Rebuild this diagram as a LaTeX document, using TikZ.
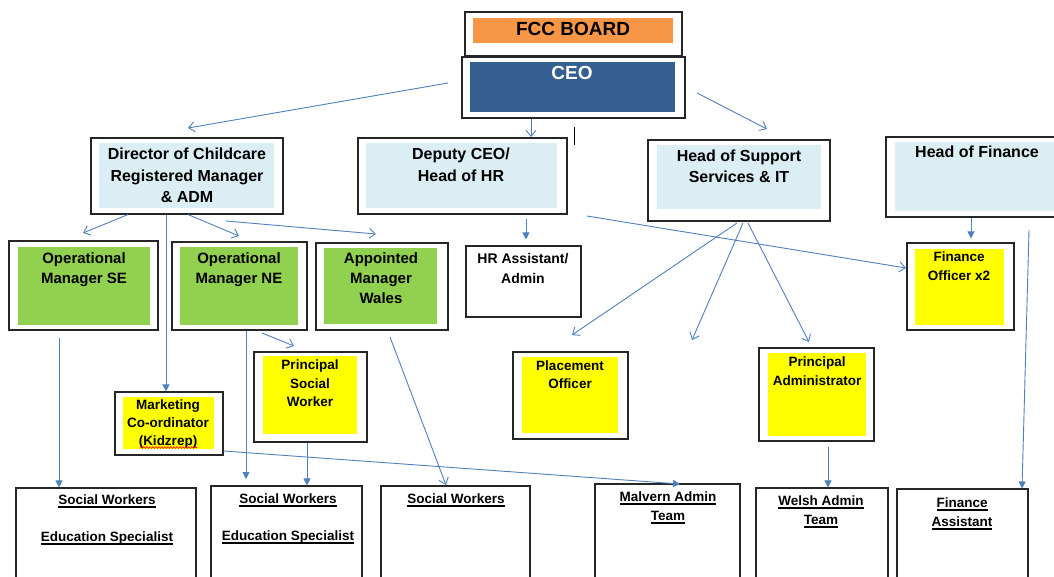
\documentclass[tikz,border=0pt]{standalone}
\usepackage{fontspec}
\setmainfont{Liberation Sans}
\usetikzlibrary{arrows.meta,fit,calc,decorations.pathmorphing}
\definecolor{orangefill}{HTML}{F79646}
\definecolor{ceoblue}{HTML}{365F91}
\definecolor{paleblue}{HTML}{DAEEF3}
\definecolor{greenfill}{HTML}{92D050}
\definecolor{yellowfill}{HTML}{FFFF00}
\definecolor{connblue}{HTML}{4F81BD}
\newcommand\fsz[2]{\fontsize{#1}{#2}\selectfont\bfseries}
\newcommand\obox[5]{\node[outerbox, fit={(#2,#3)(#4,#5)}] (#1) {};}
\newcommand\ibox[6]{\node[fillbox, fill=#6, fit={(#2,#3)(#4,#5)}] (#1) {};}
\newcommand\uln[1]{\setbox0\hbox{#1}\rlap{\rule[-2.6pt]{\wd0}{1.1pt}}\box0}
\begin{document}
\begin{tikzpicture}[x=1pt,y=-1pt,
  outerbox/.style={draw=black!85, line width=1.1pt, inner sep=0pt, fill=white},
  fillbox/.style={inner sep=0pt, draw=none},
  lbl/.style={inner sep=0pt, align=center, anchor=north},
  conn/.style={draw=connblue, line width=0.9pt},
  openarr/.style={conn, -{Straight Barb[length=6pt,width=10pt,line width=0.9pt]}},
  filledarr/.style={conn, -{Triangle[length=7pt,width=7pt]}}
]
\clip (0,0) rectangle (1054,576);
\fill[white] (0,0) rectangle (1054,576);

% ---------- top ----------
\obox{fcc}{465}{12}{682}{56}
\ibox{fcci}{473}{18}{673}{43}{orangefill}
\node[lbl, font=\fsz{19}{23}] (fcct) at (573,22) {FCC BOARD};

\obox{ceo}{462}{57}{685}{118}
\ibox{ceoi}{470}{62}{675}{112}{ceoblue}
\node[lbl, font=\fsz{19}{23}, text=white] (ceot) at (572,66) {CEO};

% ---------- second row ----------
\obox{dir}{91}{138}{283}{214}
\ibox{diri}{99}{143}{274}{208}{paleblue}
\node[lbl, font=\fsz{16}{21.5}] (dirt) at (187,148) {Director of Childcare\\Registered Manager\\\& ADM};

\obox{dep}{358}{138}{567}{214}
\ibox{depi}{366}{143}{557}{208}{paleblue}
\node[lbl, font=\fsz{16}{21.5}] (dept) at (461,148) {Deputy CEO/\\Head of HR};

\obox{hss}{648}{140}{830}{221}
\ibox{hssi}{657}{145}{821}{209}{paleblue}
\node[lbl, font=\fsz{16}{21}] (hsst) at (739,150) {Head of Support\\Services \& IT};

\obox{hof}{886}{137}{1070}{217}
\ibox{hofi}{895}{142}{1070}{211}{paleblue}
\node[lbl, font=\fsz{16}{21}] (hoft) at (977,146) {Head of Finance};

% ---------- third row ----------
\obox{opse}{9}{241}{158}{330}
\ibox{opsei}{18}{247}{150}{325}{greenfill}
\node[lbl, font=\fsz{15}{20}] (opset) at (84,252) {Operational\\Manager SE};

\obox{opne}{172}{242}{307}{330}
\ibox{opnei}{180}{247}{298}{325}{greenfill}
\node[lbl, font=\fsz{15}{20}] (opnet) at (239,252) {Operational\\Manager NE};

\obox{amw}{316}{243}{448}{330}
\ibox{amwi}{324}{248}{437}{324}{greenfill}
\node[lbl, font=\fsz{15}{20}] (amwt) at (381,252) {Appointed\\Manager\\Wales};

\obox{hra}{466}{246}{581}{317}
\node[lbl, font=\fsz{14}{20}] (hrat) at (523,253) {HR Assistant/\\Admin};

\obox{fo}{907}{243}{1014}{330}
\ibox{foi}{915}{249}{1004}{325}{yellowfill}
\node[lbl, font=\fsz{13.5}{19}] (fot) at (959,252) {Finance\\Officer x2};

% ---------- fourth row ----------
\obox{psw}{254}{352}{367}{442}
\ibox{pswi}{263}{356}{357}{434}{yellowfill}
\node[lbl, font=\fsz{13.5}{18.5}] (pswt) at (310,360) {Principal\\Social\\Worker};

\obox{mkt}{115}{392}{223}{455}
\ibox{mkti}{123}{397}{214}{449}{yellowfill}
\node[lbl, font=\fsz{13.5}{18}] (mktt) at (168,400) {Marketing\\Co-ordinator\\(Kidzrep)};
\draw[red, line width=0.6pt, decoration={snake, amplitude=0.9pt, segment length=3pt}, decorate] (140,447.5) -- (197,447.5);

\obox{plo}{513}{352}{628}{439}
\ibox{ploi}{522}{357}{618}{433}{yellowfill}
\node[lbl, font=\fsz{13.5}{18}] (plot) at (570,361) {Placement\\Officer};

\obox{pad}{759}{348}{874}{441}
\ibox{padi}{768}{353}{866}{436}{yellowfill}
\node[lbl, font=\fsz{13.5}{19}] (padt) at (817,357) {Principal\\Administrator};

% ---------- bottom row ----------
\obox{sw1}{16}{488}{196}{600}
\node[lbl, font=\fsz{13.5}{18.5}] (sw1t) at (107,495) {\uln{Social Workers}\\[18.5pt]\uln{Education Specialist}};
\obox{sw2}{211}{486}{362}{600}
\node[lbl, font=\fsz{13.5}{18.5}] (sw2t) at (288,494) {\uln{Social Workers}\\[18.5pt]\uln{Education Specialist}};
\obox{sw3}{381}{486}{530}{600}
\node[lbl, font=\fsz{13.5}{18.5}] (sw3t) at (456,494) {\uln{Social Workers}};
\obox{mal}{595}{484}{740}{600}
\node[lbl, font=\fsz{13.5}{19}] (malt) at (668,492) {\uln{Malvern Admin}\\\uln{Team}};
\obox{wel}{756}{488}{888}{600}
\node[lbl, font=\fsz{13.5}{19}] (welt) at (821,496) {\uln{Welsh Admin}\\\uln{Team}};
\obox{fas}{897}{489}{1028}{600}
\node[lbl, font=\fsz{13.5}{19}] (fast) at (962,498) {\uln{Finance}\\\uln{Assistant}};

% ---------- stray mark ----------
\coordinate (m1) at (574,127);
\coordinate (m2) at (574,145);
\draw[black, line width=1pt] (m1) -- (m2);

% ---------- connector end points ----------
\coordinate (s1) at (448,83);
\coordinate (s3) at (697,93);
\coordinate (s6) at (226,221);
\coordinate (s7) at (587,216);
\coordinate (s8) at (737,223);
\coordinate (s9) at (743,223);
\coordinate (s10) at (748,223);
\coordinate (s11) at (262,333);
\coordinate (s12) at (390,337);
\coordinate (s15) at (1029,230);
\coordinate (e1) at (188,128);
\coordinate (e2) at (531,137);
\coordinate (e3) at (767,129);
\coordinate (e4) at (83,233);
\coordinate (e5) at (239,236);
\coordinate (e6) at (376,234);
\coordinate (e7) at (906,268);
\coordinate (e8) at (572,335);
\coordinate (e9) at (692,340);
\coordinate (e10) at (809,342);
\coordinate (e11) at (294,346);
\coordinate (e12) at (446,485);
\coordinate (e13) at (246,479);
\coordinate (e14) at (680,484);

% ---------- connectors ----------
\draw[openarr] (s1) -- (e1);
\draw[openarr] (ceo.south -| e2) -- (e2);
\draw[openarr] (s3) -- (e3);

\draw[openarr] (dir.south -| 128,0) -- (e4);
\draw[filledarr] (dir.south -| 166,0) -- (mkt.north -| 166,0);
\draw[openarr] (dir.south -| 188,0) -- (e5);
\draw[openarr] (s6) -- (e6);

\draw[filledarr] ($(dep.south -| 526,0)+(0,4)$) -- ($(hra.north -| 526,0)+(0,-6)$);
\draw[openarr] (s7) -- (e7);

\draw[openarr] (s8) -- (e8);
\draw[openarr] (s9) -- (e9);
\draw[openarr] (s10) -- (e10);

\draw[filledarr] (hof.south -| 971,0) -- ($(fo.north -| 971,0)+(0,-4)$);
\draw[filledarr] (s15) -- (fas.north -| 1022,0);

\draw[filledarr] ($(opse.south -| 59,0)+(0,7)$) -- (sw1.north -| 59,0);
\draw[filledarr] (opne.south -| 246,0) -- (e13);
\draw[openarr] (s11) -- (e11);
\draw[filledarr] (psw.south -| 307,0) -- (sw2.north -| 307,0);
\draw[openarr] (s12) -- (e12);
\draw[filledarr] (mkt.east |- 0,451) -- (e14);
\draw[filledarr] ($(pad.south -| 828,0)+(0,5)$) -- (wel.north -| 828,0);
\end{tikzpicture}
\end{document}
